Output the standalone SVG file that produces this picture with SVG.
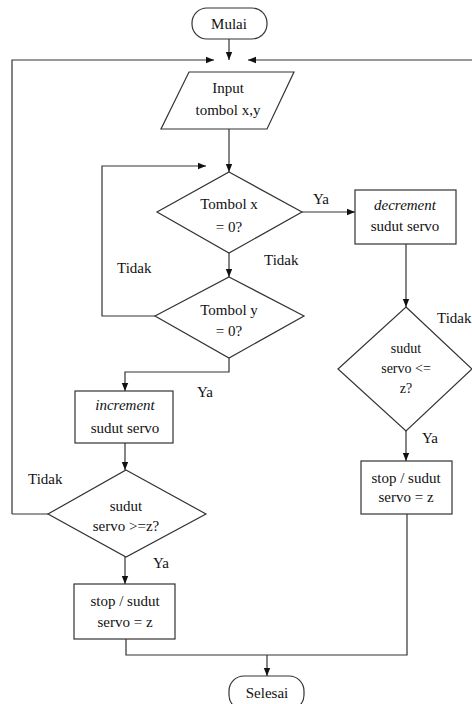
<svg xmlns="http://www.w3.org/2000/svg" width="472" height="704" viewBox="0 0 472 704">
<defs>
<marker id="ah" viewBox="0 0 10 10" refX="10" refY="5" markerWidth="8" markerHeight="8" markerUnits="userSpaceOnUse" orient="auto">
<path d="M0,1 L10,5 L0,9 z" fill="#111"/>
</marker>
<style>
.s{fill:#fff;stroke:#333;stroke-width:1.2}
.c{fill:none;stroke:#333;stroke-width:1.2}
.a{marker-end:url(#ah)}
text{font-family:"Liberation Serif","Times New Roman",serif;font-size:15px;fill:#111;text-anchor:middle}
.l{text-anchor:start}
.i{font-style:italic}
.sm{font-size:14px}
</style>
</defs>
<rect width="472" height="704" fill="#fff"/>
<g id="connectors">
<path class="c a" d="M229,39 V60"/>
<path class="c a" d="M12,514 V60 H214"/>
<path class="c a" d="M472,60 H248"/>
<path class="c a" d="M229,129 V172"/>
<path class="c a" d="M155,316 H102 V166 H206"/>
<path class="c a" d="M229,253 V277"/>
<path class="c a" d="M302,212 H355"/>
<path class="c a" d="M406,244 V307"/>
<path class="c a" d="M406,431 V461"/>
<path class="c a" d="M229,358 V372 H125 V391"/>
<path class="c a" d="M125,443 V470"/>
<path class="c" d="M48,514 H12"/>
<path class="c a" d="M125,557 V584"/>
<path class="c" d="M126,639 V655 H407 V514"/>
<path class="c a" d="M267,655 V676"/>
<text class="l" x="313" y="204">Ya</text>
<text class="l" x="264" y="265">Tidak</text>
<text class="l" x="117" y="273">Tidak</text>
<text class="l" x="437" y="323">Tidak</text>
<text class="l" x="422" y="443">Ya</text>
<text class="l" x="197" y="397">Ya</text>
<text class="l" x="28" y="484">Tidak</text>
<text class="l" x="153" y="568">Ya</text>
</g>
<g id="mulai">
<rect class="s" x="192" y="8" width="75" height="31" rx="15" ry="15"/>
<text x="229" y="29">Mulai</text>
</g>
<g id="input">
<path class="s" d="M189,72 H294 L267,129 H161 Z"/>
<text x="228" y="93">Input</text>
<text x="228" y="115">tombol x,y</text>
</g>
<g id="tombolx">
<path class="s" d="M229,172 L302,212 L229,253 L157,212 Z"/>
<text x="229" y="209">Tombol x</text>
<text x="229" y="232">= 0?</text>
</g>
<g id="tomboly">
<path class="s" d="M229,277 L304,316 L229,358 L155,316 Z"/>
<text x="229" y="315">Tombol y</text>
<text x="229" y="336">= 0?</text>
</g>
<g id="decrement">
<rect class="s" x="355" y="190" width="101" height="54"/>
<text class="i" x="405" y="210">decrement</text>
<text x="405" y="231">sudut servo</text>
</g>
<g id="cek-kurang">
<path class="s" d="M406,307 L472,369 L406,431 L338,369 Z"/>
<text class="sm" x="406" y="353">sudut</text>
<text class="sm" x="406" y="373">servo &lt;=</text>
<text class="sm" x="406" y="393">z?</text>
</g>
<g id="stop-kanan">
<rect class="s" x="361" y="461" width="91" height="53"/>
<text x="406" y="483">stop / sudut</text>
<text x="406" y="502">servo = z</text>
</g>
<g id="increment">
<rect class="s" x="75" y="391" width="98" height="52"/>
<text class="i" x="125" y="410">increment</text>
<text x="125" y="433">sudut servo</text>
</g>
<g id="cek-lebih">
<path class="s" d="M126,470 L206,514 L126,557 L48,514 Z"/>
<text x="126" y="511">sudut</text>
<text x="126" y="531">servo &gt;=z?</text>
</g>
<g id="stop-kiri">
<rect class="s" x="74" y="584" width="101" height="55"/>
<text x="125" y="606">stop / sudut</text>
<text x="125" y="627">servo = z</text>
</g>
<g id="selesai">
<rect class="s" x="229" y="676" width="75" height="34" rx="15" ry="15"/>
<text x="267" y="698">Selesai</text>
</g>
</svg>
